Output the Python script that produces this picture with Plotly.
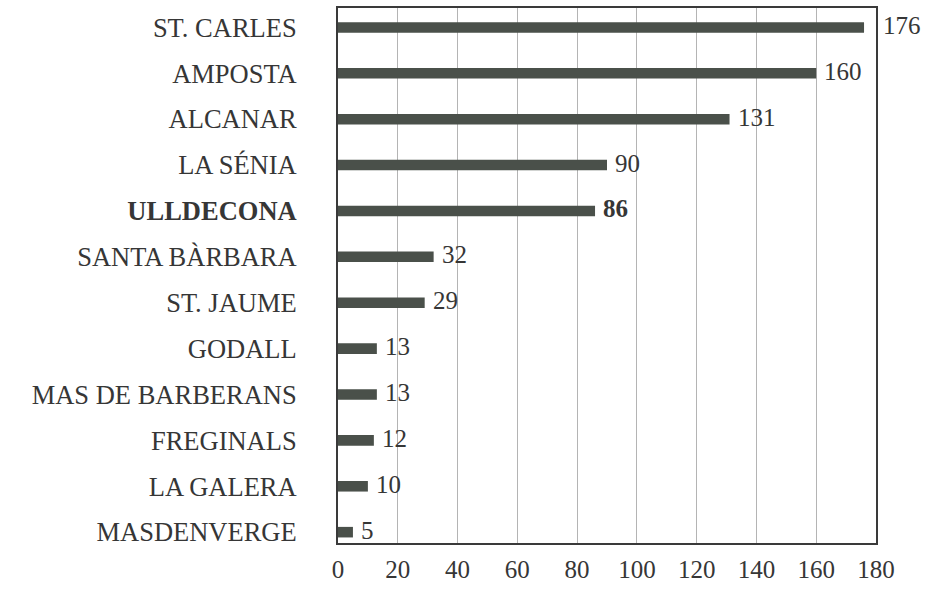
import plotly.graph_objects as go

categories = ["ST. CARLES", "AMPOSTA", "ALCANAR", "LA SÉNIA", "ULLDECONA",
              "SANTA BÀRBARA", "ST. JAUME", "GODALL", "MAS DE BARBERANS",
              "FREGINALS", "LA GALERA", "MASDENVERGE"]
values = [176, 160, 131, 90, 86, 32, 29, 13, 13, 12, 10, 5]
highlight = "ULLDECONA"
x_ticks = [0, 20, 40, 60, 80, 100, 120, 140, 160, 180]

FONT = "Liberation Serif, Times New Roman, serif"
TXT = "#363636"
BAR = "#4a504a"
XMAX = 180

# bottom-to-top order for numeric positions
cats_bt = categories[::-1]
vals_bt = values[::-1]
pos = list(range(len(cats_bt)))

def fmt(c):
    return f"<b>{c}</b>" if c == highlight else c

fig = go.Figure()
fig.add_trace(go.Bar(
    x=vals_bt, y=pos, orientation="h",
    marker=dict(color=BAR, line=dict(width=0)),
    width=0.23, hoverinfo="skip",
))

for p, c, v in zip(pos, cats_bt, vals_bt):
    near_edge = v > XMAX - 5
    fig.add_annotation(
        x=XMAX if near_edge else v, y=p, xref="x", yref="y",
        text=(f"<b>{v}</b>" if c == highlight else str(v)),
        showarrow=False, xanchor="left", yanchor="middle",
        xshift=5 if near_edge else 6, yshift=2,
        font=dict(family=FONT, size=25, color=TXT),
    )

fig.update_layout(
    width=935, height=589,
    margin=dict(l=338, r=59, t=6, b=39),
    paper_bgcolor="white", plot_bgcolor="white",
    showlegend=False,
    font=dict(family=FONT, size=25, color=TXT),
)
fig.update_xaxes(
    range=[0, XMAX], tickvals=x_ticks, ticktext=[str(t) for t in x_ticks],
    showgrid=True, gridcolor="#b4b4b4", gridwidth=1,
    zeroline=False, showline=True, linecolor="#3a3a3a", linewidth=2, mirror=True,
    ticks="", ticklabelstandoff=3, tickfont=dict(family=FONT, size=25, color=TXT),
)
fig.update_yaxes(
    range=[-0.236, 11.423], tickvals=pos, ticktext=[fmt(c) for c in cats_bt],
    showgrid=False, zeroline=False, showline=True, linecolor="#3a3a3a",
    linewidth=2, mirror=True, ticks="", ticklabelstandoff=34,
    tickfont=dict(family=FONT, size=26.5, color=TXT),
)

fig.write_html(
    "out.html",
    config={"displayModeBar": False},
    post_script="document.body.style.margin='0';document.body.style.padding='0';",
)
